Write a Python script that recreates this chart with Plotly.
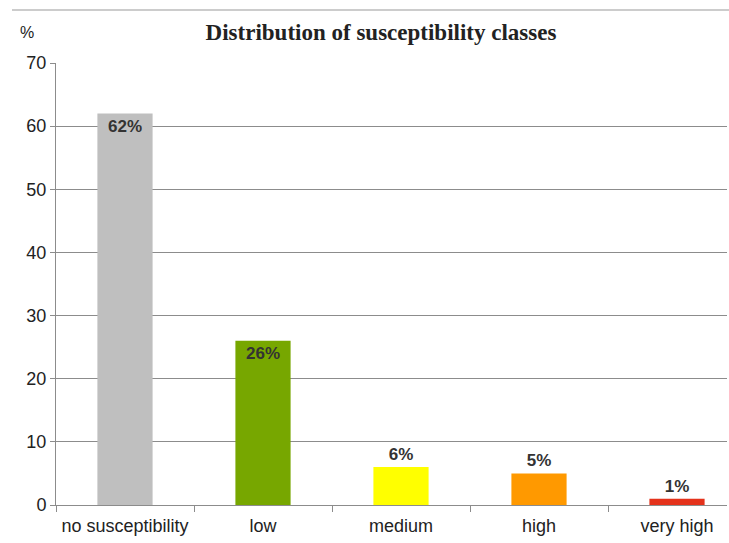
import plotly.graph_objects as go

categories = ["no susceptibility", "low", "medium", "high", "very high"]
values = [62, 26, 6, 5, 1]
labels = ["62%", "26%", "6%", "5%", "1%"]
colors = ["#BFBFBF", "#77A700", "#FFFF00", "#FF9900", "#E4321B"]
text_positions = ["inside", "inside", "outside", "outside", "outside"]
y_ticks = [0, 10, 20, 30, 40, 50, 60, 70]

W, H = 729, 543
L, R, T, B = 56, 2, 63, 38
cat_px = 138.0
plot_w = W - L - R
plot_h = H - T - B
x_max = -0.5 + plot_w / cat_px

fig = go.Figure()
fig.add_trace(go.Bar(
    x=categories, y=values, marker=dict(color=colors, line=dict(width=0)),
    width=0.4, text=labels, textposition=text_positions,
    insidetextanchor="end", cliponaxis=False,
    textfont=dict(family="Liberation Sans, Arial", size=17, color="#333333", weight="bold"),
    textangle=0,
))

fig.update_layout(
    width=W, height=H,
    margin=dict(l=L, r=R, t=T, b=B),
    paper_bgcolor="white", plot_bgcolor="white",
    showlegend=False,
    font=dict(family="Liberation Sans, Arial", size=18, color="#222222"),
    title=dict(text="<b>Distribution of susceptibility classes</b>",
               x=381 / W, xanchor="center", y=1 - 32 / H, yanchor="middle",
               font=dict(family="Liberation Serif, DejaVu Serif", size=23, color="#222222")),
    xaxis=dict(range=[-0.5, x_max], tickson="boundaries", ticks="outside", ticklen=6,
               tickcolor="#8C8C8C", showline=True, linecolor="#8C8C8C", linewidth=1,
               showgrid=False, tickfont=dict(size=18, color="#222222"), fixedrange=True,
               ticklabelstandoff=4),
    yaxis=dict(range=[0, 70], tickvals=y_ticks, ticks="outside", ticklen=5,
               tickcolor="#8C8C8C", showline=True, linecolor="#8C8C8C", linewidth=1,
               showgrid=True, gridcolor="#8C8C8C", gridwidth=1,
               tickfont=dict(size=18, color="#222222"), zeroline=False),
    bargap=0.6,
)

fig.add_annotation(text="%", xref="paper", yref="paper", x=-29 / plot_w, y=1 + 31 / plot_h,
                   xanchor="center", yanchor="middle", showarrow=False,
                   font=dict(family="Liberation Sans, Arial", size=16, color="#222222"))

# faint top edge of the chart area, as in the reference
fig.add_shape(type="line", xref="paper", yref="paper",
              x0=(12 - L) / plot_w, x1=(W - L) / plot_w,
              y0=1 + (T - 10) / plot_h, y1=1 + (T - 10) / plot_h,
              line=dict(color="#BBBBBB", width=1.5), layer="below")

fig.write_html("out.html")
